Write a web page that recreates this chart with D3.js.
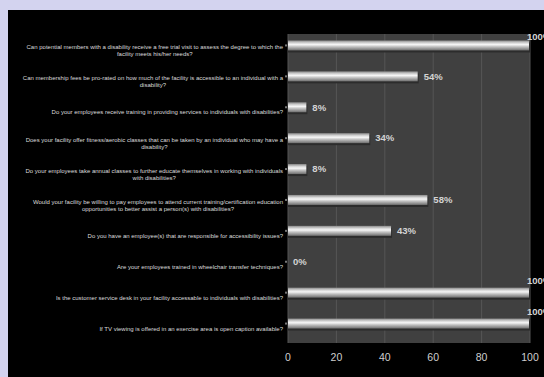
<!DOCTYPE html>
<html><head><meta charset="utf-8">
<script src="https://cdn.jsdelivr.net/npm/d3@7"></script>
<style>html,body{margin:0;padding:0;background:#000;overflow:hidden;width:544px;height:377px}svg{display:block;position:absolute;left:0;top:0}</style>
</head><body>
<svg id="c" width="544" height="377"></svg>
<script>
const categories = [
  "Can potential members with a disability receive a free trial visit to assess the degree to which the\nfacility meets his/her needs?",
  "Can membership fees be pro-rated on how much of the facility is accessible to an individual with a\ndisability?",
  "Do your employees receive training in providing services to individuals with disabilities?",
  "Does your facility offer fitness/aerobic classes that can be taken by an individual who may have a\ndisability?",
  "Do your employees take annual classes to further educate themselves in working with individuals\nwith disabilities?",
  "Would your facility be willing to pay employees to attend current training/certification education\nopportunities to better assist a person(s) with disabilities?",
  "Do you have an employee(s) that are responsible for accessibility issues?",
  "Are your employees trained in wheelchair transfer techniques?",
  "Is the customer service desk in your facility accessable to individuals with disabilities?",
  "If TV viewing is offered in an exercise area is open caption available?"
];
const values = [100, 54, 8, 34, 8, 58, 43, 0, 100, 100];
const xTicks = [0, 20, 40, 60, 80, 100];

const svg = d3.select("#c");
svg.append("rect").attr("x",0).attr("y",0).attr("width",544).attr("height",377).attr("fill","#d3d3ef");
svg.append("rect").attr("x",8).attr("y",10).attr("width",560).attr("height",380).attr("fill","#000");

const plot = {l:288, r:530, t:34, b:343};
const x = d3.scaleLinear().domain([0,100]).range([plot.l, plot.r]);
const y = d3.scaleBand().domain(d3.range(categories.length)).range([plot.t, plot.b]);

const defs = svg.append("defs");
const g = defs.append("linearGradient").attr("id","barg").attr("x1",0).attr("y1",0).attr("x2",0).attr("y2",1);
[[0,"#8a8a8a"],[0.25,"#d6d6d6"],[0.42,"#f6f6f6"],[0.6,"#c8c8c8"],[1,"#6e6e6e"]].forEach(([o,c])=>
  g.append("stop").attr("offset",o).attr("stop-color",c));

svg.append("rect").attr("x",plot.l).attr("y",plot.t).attr("width",plot.r-plot.l).attr("height",plot.b-plot.t).attr("fill","#404040");

svg.append("g").selectAll("line").data(xTicks).join("line")
  .attr("x1",d=>x(d)).attr("x2",d=>x(d)).attr("y1",plot.t).attr("y2",plot.b)
  .attr("stroke","#555").attr("stroke-width",1);

const barH = 10, off = -4;
const cy = i => y(i) + y.bandwidth()/2 + off;

// shadow
svg.append("g").selectAll("rect").data(values).join("rect")
  .attr("x",plot.l).attr("y",(d,i)=>cy(i)-barH/2+2).attr("width",d=>Math.max(0,x(d)-plot.l))
  .attr("height",barH).attr("fill","#2c2c2c").attr("opacity",d=>d>0?1:0);
svg.append("g").selectAll("rect").data(values).join("rect")
  .attr("x",plot.l).attr("y",(d,i)=>cy(i)-barH/2).attr("width",d=>Math.max(0,x(d)-plot.l-1))
  .attr("height",barH).attr("fill","url(#barg)").attr("opacity",d=>d>0?1:0);

// category ticks
svg.append("g").selectAll("rect").data(values).join("rect")
  .attr("x",plot.l-3).attr("y",(d,i)=>cy(i)-1).attr("width",2).attr("height",2).attr("fill","#777");

// value labels
svg.append("g").selectAll("text").data(values).join("text")
  .attr("x",d=> d>=100 ? x(d)-3 : x(d)+5)
  .attr("y",(d,i)=> d>=100 ? Math.max(cy(i)-12, plot.t+3) : cy(i))
  .attr("dy","0.35em")
  .attr("font-family","Liberation Sans, Arial, sans-serif").attr("font-size",9.5).attr("font-weight","bold")
  .attr("fill","#d4d4d4").text(d=>d+"%");

// category labels
const lab = svg.append("g").attr("font-family","Liberation Sans, Arial, sans-serif").attr("font-size",6).attr("fill","#dcdcdc");
categories.forEach((c,i)=>{
  const lines = c.split("\n");
  const yc = y(i)+y.bandwidth()/2 + 1;
  const lh = 7;
  const y0 = yc - (lines.length-1)*lh/2;
  const t1 = lab.append("text").attr("x",283).attr("y",y0).attr("dy","0.35em").attr("text-anchor","end").text(lines[0]);
  if(lines.length>1){
    const w = t1.node().getComputedTextLength();
    lab.append("text").attr("x",283-w/2).attr("y",y0+lh).attr("dy","0.35em").attr("text-anchor","middle").text(lines[1]);
  }
});

// x axis tick labels
svg.append("g").selectAll("text").data(xTicks).join("text")
  .attr("x",d=>x(d)).attr("y",357).attr("dy","0.35em").attr("text-anchor","middle")
  .attr("font-family","Liberation Sans, Arial, sans-serif").attr("font-size",10.5)
  .attr("fill","#cfcfcf").text(d=>d);
</script>
</body></html>
